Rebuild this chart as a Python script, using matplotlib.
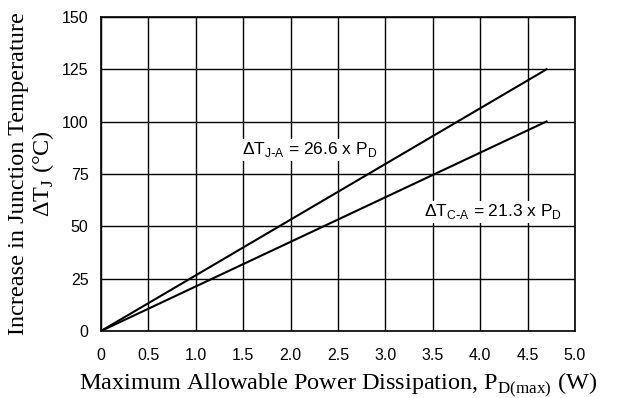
import matplotlib.pyplot as plt
import numpy as np

# power dissipation end points (W) and thermal slopes (deg C / W)
pd_range = [0, 4.7]
slope_ja = 26.6
slope_ca = 21.3
x_ticks = [0, 0.5, 1.0, 1.5, 2.0, 2.5, 3.0, 3.5, 4.0, 4.5, 5.0]
x_labels = ['0', '0.5', '1.0', '1.5', '2.0', '2.5', '3.0', '3.5', '4.0', '4.5', '5.0']
y_ticks = [0, 25, 50, 75, 100, 125, 150]

sans = 'Liberation Sans'
serif = 'Liberation Serif'

fig = plt.figure(figsize=(6.21, 3.98), dpi=100)
ax = fig.add_axes([101 / 621, 1 - 331 / 398, 474 / 621, 314 / 398])

x = np.array(pd_range)
ax.plot(x, slope_ja * x, color='black', lw=1.5)
ax.plot(x, slope_ca * x, color='black', lw=1.5)

ax.set_xlim(0, 5.0)
ax.set_ylim(0, 150)
ax.set_xticks(x_ticks)
ax.set_xticklabels(x_labels)
ax.set_yticks(y_ticks)
ax.grid(True, color='black', lw=1.0)
ax.tick_params(axis='y', length=0, pad=9, labelsize=11.5)
ax.tick_params(axis='x', length=0, pad=12, labelsize=11.5)
for lab in ax.get_xticklabels() + ax.get_yticklabels():
    lab.set_fontfamily(sans)
for s in ax.spines.values():
    s.set_linewidth(1.2)

ax.text(2.2, 86.5, r'ΔT$_{\mathregular{J\text{-}A}}$ = 26.6 x P$_{\mathregular{D}}$',
        ha='center', va='center', fontsize=12.5, family=sans,
        bbox=dict(facecolor='white', edgecolor='none', pad=1))
ax.text(4.13, 57, r'ΔT$_{\mathregular{C\text{-}A}}$ = 21.3 x P$_{\mathregular{D}}$',
        ha='center', va='center', fontsize=12.5, family=sans,
        bbox=dict(facecolor='white', edgecolor='none', pad=1))

ax.set_xlabel(r'Maximum Allowable Power Dissipation, P$_{\mathregular{D(max)}}$ (W)',
              fontsize=17.5, family=serif, labelpad=5)
ax.set_ylabel('Increase in Junction Temperature\n' + r'ΔT$_{\mathregular{J}}$ (°C)',
              fontsize=17.5, family=serif, labelpad=4, linespacing=1.05)

fig.savefig('out.png', dpi=100)
